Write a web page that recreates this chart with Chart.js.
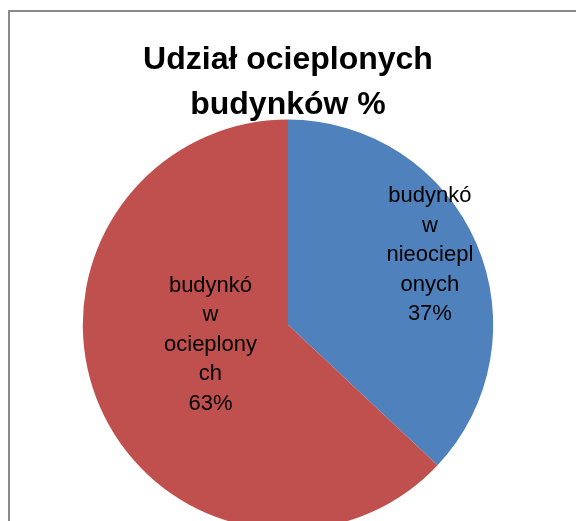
<!DOCTYPE html>
<html>
<head>
<meta charset="utf-8">
<script src="https://cdn.jsdelivr.net/npm/chart.js@4/dist/chart.umd.min.js"></script>
<style>
    html, body { margin: 0; padding: 0; overflow: hidden; background: #fff; }
    #wrap { position: absolute; left: 0; top: 0; width: 576px; height: 530px; }
    #frame { position: absolute; left: 8px; top: 10px; width: 640px; height: 640px;
             border: 2px solid #8a8a8a; pointer-events: none; }
</style>
</head>
<body>
<div id="frame"></div>
<div id="wrap"><canvas id="pieChart"></canvas></div>
<script>
// Chart data
const categories = ['budynków nieocieplonych', 'budynków ocieplonych'];
const shares = [37, 63];
const sliceColors = ['#4F81BD', '#C0504D'];
const titleLines = ['Udział ocieplonych', 'budynków %'];

// label placement: fraction of radius and angle tweak (degrees) per slice
const labelRadius = [0.77, 0.39];
const labelTurn = [-2.7, 9];

/**
 * Wrap text like Excel does: by words, breaking long words by characters
 */
function wrapText(ctx, text, maxWidth) {
    const lines = [];
    let current = '';
    text.split(' ').forEach(function(word) {
        const trial = current ? current + ' ' + word : word;
        if (ctx.measureText(trial).width <= maxWidth) {
            current = trial;
            return;
        }
        if (current) {
            lines.push(current);
            current = '';
        }
        let chunk = '';
        for (const ch of word) {
            if (chunk && ctx.measureText(chunk + ch).width > maxWidth) {
                lines.push(chunk);
                chunk = '';
            }
            chunk += ch;
        }
        current = chunk;
    });
    if (current) lines.push(current);
    return lines;
}

// Draws the slice labels inside the pie
const sliceLabels = {
    id: 'sliceLabels',
    afterDatasetsDraw(chart) {
        const ctx = chart.ctx;
        const meta = chart.getDatasetMeta(0);
        const total = shares.reduce((a, b) => a + b, 0);
        ctx.save();
        ctx.font = '22px "Liberation Sans", Arial, sans-serif';
        ctx.fillStyle = '#000';
        ctx.textAlign = 'center';
        ctx.textBaseline = 'middle';
        const lineHeight = 29.5;
        meta.data.forEach(function(arc, i) {
            const p = arc.getProps(['x', 'y', 'startAngle', 'endAngle', 'outerRadius'], true);
            const mid = (p.startAngle + p.endAngle) / 2 + labelTurn[i] * Math.PI / 180;
            const r = p.outerRadius * labelRadius[i];
            const cx = p.x + Math.cos(mid) * r;
            const cy = p.y + Math.sin(mid) * r;
            const lines = wrapText(ctx, categories[i], 96);
            lines.push(Math.round(shares[i] / total * 100) + '%');
            const top = cy - (lines.length - 1) * lineHeight / 2;
            lines.forEach(function(line, k) {
                ctx.fillText(line, cx, top + k * lineHeight);
            });
        });
        ctx.restore();
    }
};

document.addEventListener('DOMContentLoaded', function() {
    const ctx = document.getElementById('pieChart').getContext('2d');
    new Chart(ctx, {
        type: 'pie',
        data: {
            labels: categories,
            datasets: [{
                data: shares,
                backgroundColor: sliceColors,
                borderWidth: 0
            }]
        },
        options: {
            responsive: true,
            maintainAspectRatio: false,
            animation: false,
            layout: { padding: 0 },
            plugins: {
                legend: { display: false },
                tooltip: { enabled: false },
                title: {
                    display: true,
                    text: titleLines,
                    color: '#000',
                    font: {
                        family: '"Liberation Sans", Arial, sans-serif',
                        size: 32,
                        weight: 'bold',
                        lineHeight: 1.4
                    },
                    padding: { top: 38, bottom: -8 }
                }
            }
        },
        plugins: [sliceLabels]
    });
});
</script>
</body>
</html>
